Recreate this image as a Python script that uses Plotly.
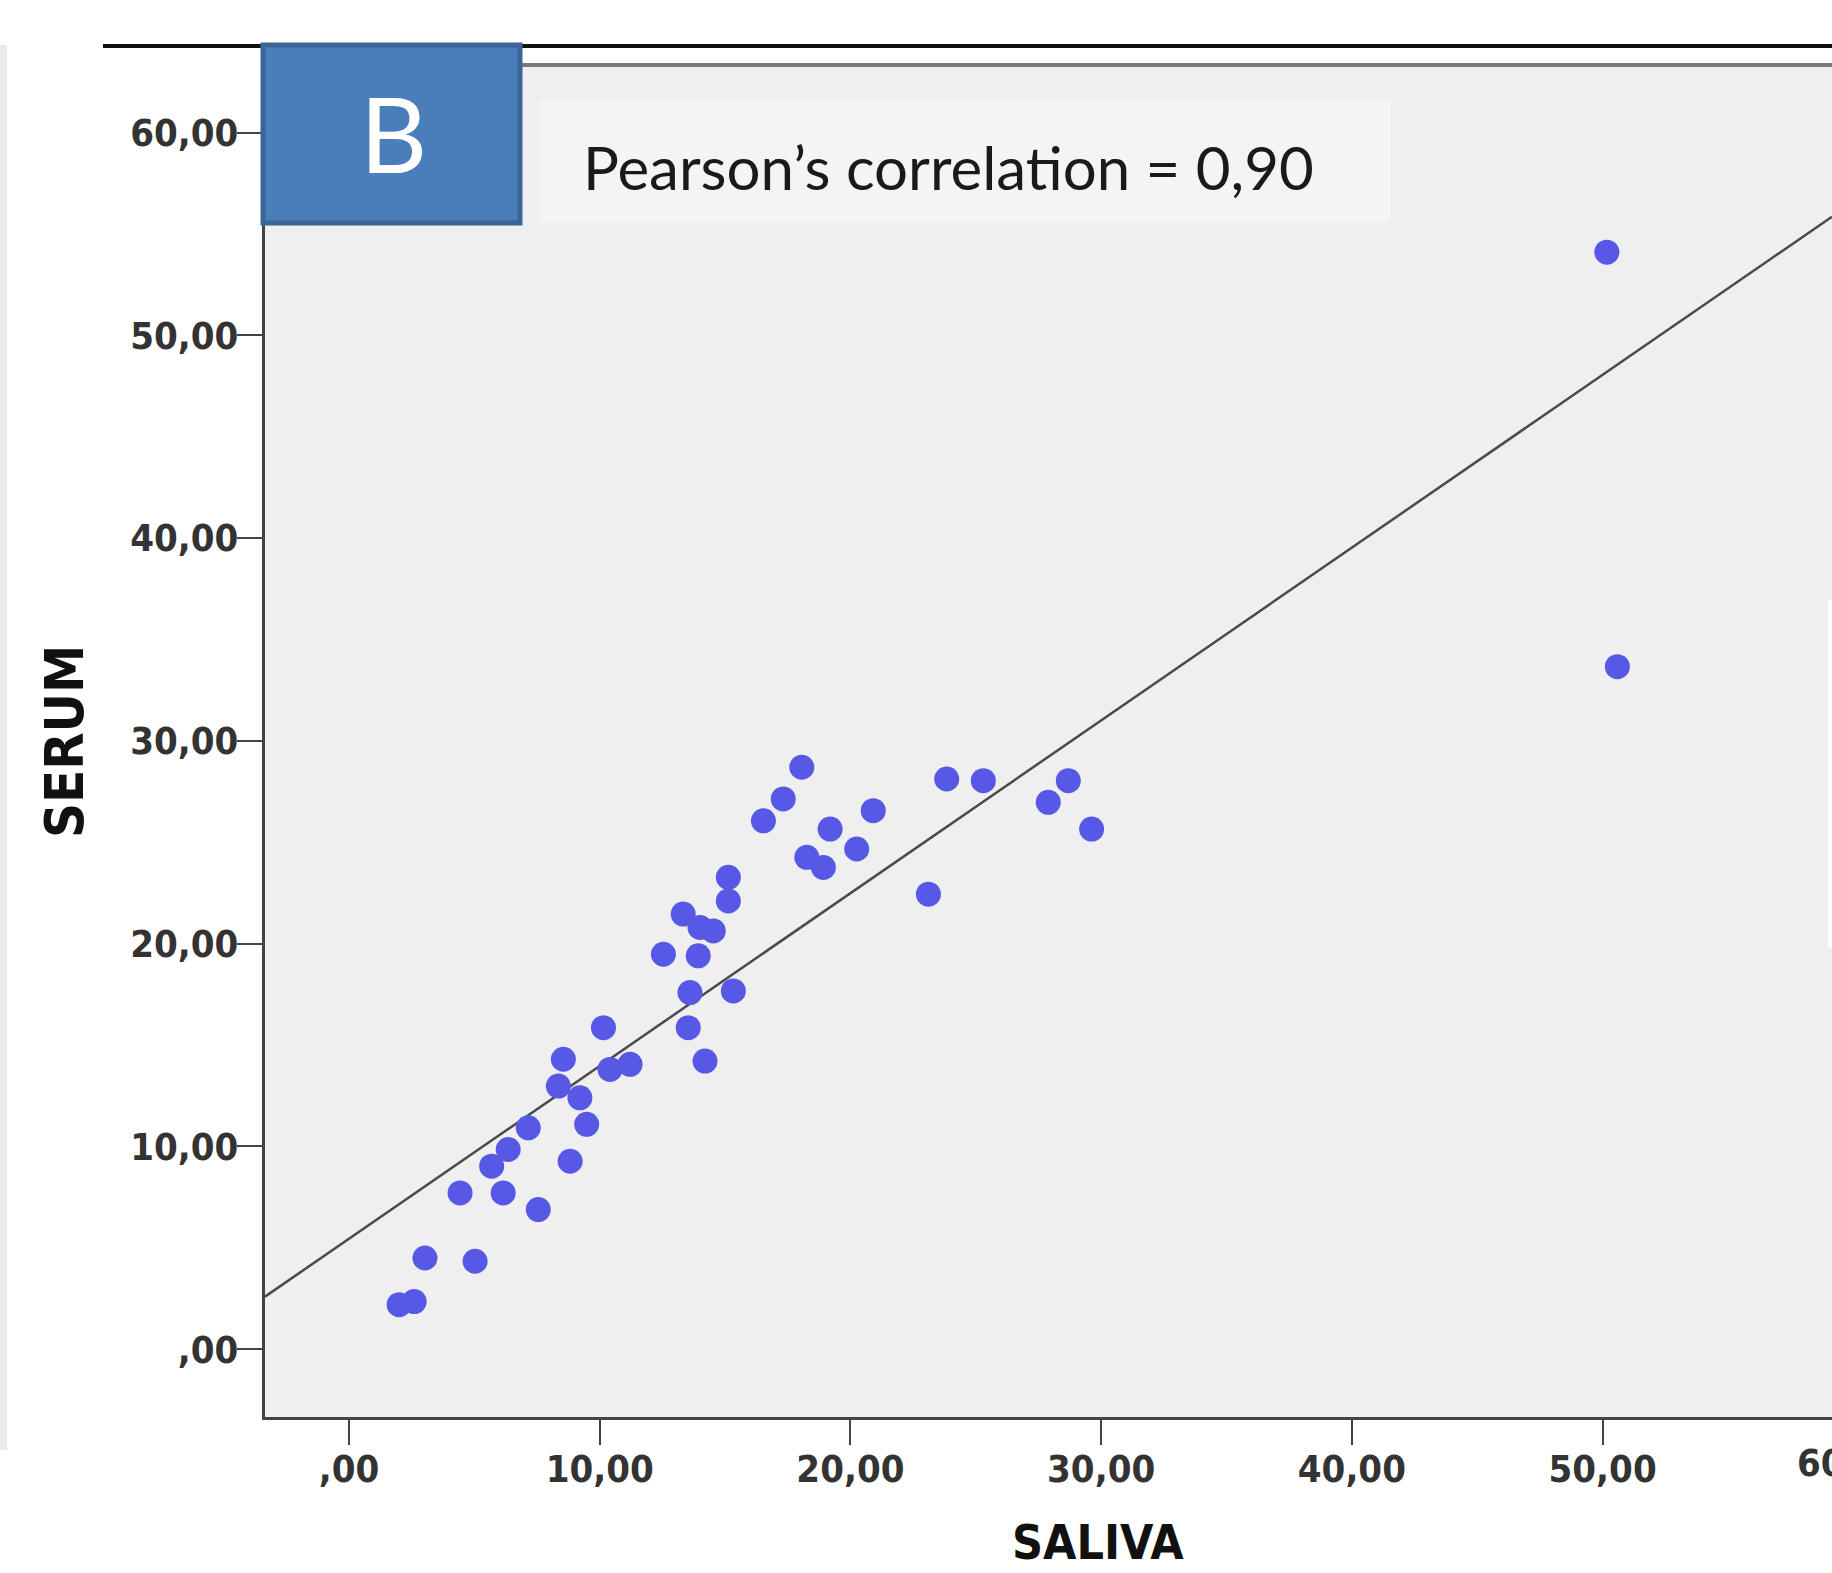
import plotly.graph_objects as go

# ---- data ----
saliva = [2.0, 2.6, 3.03, 5.03, 4.43, 6.15, 7.55, 5.69, 6.35, 7.15, 8.82, 8.35, 8.55, 9.21,
          9.48, 10.41, 11.21, 10.15, 12.54, 13.33, 14.0, 14.53, 13.93, 15.33, 13.6, 13.53,
          14.2, 15.13, 15.13, 16.53, 17.32, 18.06, 20.91, 19.19, 20.25, 18.26, 18.92, 23.84,
          25.30, 23.11, 28.69, 27.89, 29.62, 50.17, 50.59]
serum = [2.2, 2.35, 4.50, 4.34, 7.71, 7.71, 6.89, 9.03, 9.85, 10.92, 9.27, 12.98, 14.30, 12.40,
         11.09, 13.80, 14.05, 15.86, 19.48, 21.46, 20.8, 20.63, 19.4, 17.67, 17.59, 15.86,
         14.21, 23.27, 22.11, 26.06, 27.14, 28.70, 26.56, 25.65, 24.67, 24.26, 23.76, 28.12,
         28.04, 22.44, 28.04, 26.97, 25.65, 54.10, 33.66]

fit_intercept = 5.45
fit_slope = 0.852

x_ticks = [0, 10, 20, 30, 40, 50]
x_ticktext = [",00", "10,00", "20,00", "30,00", "40,00", "50,00"]
y_ticks = [0, 10, 20, 30, 40, 50, 60]
y_ticktext = [",00", "10,00", "20,00", "30,00", "40,00", "50,00", "60,00"]

x_range = [-3.35, 59.15]
y_range = [-3.34, 63.23]

panel_label = "B"
corr_text = "Pearson\u2019s correlation = 0,90"
x_title = "SALIVA"
y_title = "SERUM"

# ---- layout geometry (pixels) ----
W, H = 1832, 1573
L, T, B = 265, 67, 1417
PW, PH = W - L, B - T


def px(x):
    return (x - L) / PW


def py(y):
    return (B - y) / PH


fit_x = [x_range[0], x_range[1]]
fit_y = [fit_intercept + fit_slope * v for v in fit_x]

fig = go.Figure()
fig.add_trace(go.Scatter(x=fit_x, y=fit_y, mode="lines",
                         line=dict(color="#4a4a4a", width=2.5), showlegend=False,
                         hoverinfo="skip"))
fig.add_trace(go.Scatter(x=saliva, y=serum, mode="markers",
                         marker=dict(size=25, color="#5858e6", line=dict(width=0)),
                         showlegend=False))

tick_font = dict(family="DejaVu Sans Condensed, DejaVu Sans", size=38, color="#333333",
                 weight="bold")
axis_common = dict(showgrid=False, zeroline=False, showline=True, linecolor="#444444",
                   linewidth=3, ticks="outside", ticklen=25, tickwidth=2,
                   tickcolor="#444444", tickfont=tick_font, ticklabelstandoff=-9)

fig.update_layout(
    width=W, height=H,
    margin=dict(l=L, r=0, t=T, b=H - B, pad=0),
    paper_bgcolor="white", plot_bgcolor="#efefef",
    xaxis=dict(range=x_range, tickvals=x_ticks, ticktext=x_ticktext, **axis_common),
    yaxis=dict(range=y_range, tickvals=y_ticks, ticktext=y_ticktext, **axis_common),
)

shapes = [
    # top black rule and grey frame line
    dict(type="line", xref="paper", yref="paper", x0=px(103), x1=1, y0=py(46), y1=py(46),
         line=dict(color="#111111", width=4), layer="above"),
    dict(type="line", xref="paper", yref="paper", x0=px(265), x1=1, y0=py(65), y1=py(65),
         line=dict(color="#7a7a7a", width=4), layer="above"),
    # light box behind correlation text
    dict(type="rect", xref="paper", yref="paper", x0=px(540), x1=px(1390), y0=py(222),
         y1=py(100), fillcolor="#f4f4f4", line=dict(width=0), layer="below"),
    # panel label box
    dict(type="rect", xref="paper", yref="paper", x0=px(263), x1=px(520), y0=py(223),
         y1=py(45), fillcolor="#4a7ebb", line=dict(color="#3a6595", width=5), layer="above"),
    # left edge strip (neighbouring panel)
    dict(type="rect", xref="paper", yref="paper", x0=px(0), x1=px(7), y0=py(1450),
         y1=py(45), fillcolor="#ebebeb", line=dict(width=0), layer="below"),
    # right edge white strip
    dict(type="rect", xref="paper", yref="paper", x0=px(1828), x1=1, y0=py(948),
         y1=py(600), fillcolor="white", line=dict(width=0), layer="above"),
]
fig.update_layout(shapes=shapes)

annotations = [
    dict(text=panel_label, xref="paper", yref="paper", x=px(393), y=py(132),
         xanchor="center", yanchor="middle", showarrow=False,
         font=dict(family="Lato, Open Sans", size=104, color="white")),
    dict(text=corr_text, xref="paper", yref="paper", x=px(948), y=py(167),
         xanchor="center", yanchor="middle", showarrow=False,
         font=dict(family="Lato, Open Sans", size=60, color="#1a1a1a")),
    dict(text=y_title, xref="paper", yref="paper", x=px(64), y=py(742), textangle=-90,
         xanchor="center", yanchor="middle", showarrow=False,
         font=dict(family="DejaVu Sans Condensed, DejaVu Sans", size=54, color="#111111",
                   weight="bold")),
    dict(text=x_title, xref="paper", yref="paper", x=px(1098), y=py(1542),
         xanchor="center", yanchor="middle", showarrow=False,
         font=dict(family="DejaVu Sans Condensed, DejaVu Sans", size=48, color="#111111",
                   weight="bold")),
    # partially visible 60 tick label cut by the image edge
    dict(text="60,00", xref="paper", yref="paper", x=px(1851), y=py(1463),
         xanchor="center", yanchor="middle", showarrow=False, font=tick_font),
]
fig.update_layout(annotations=annotations)

fig.write_html("out.html")
